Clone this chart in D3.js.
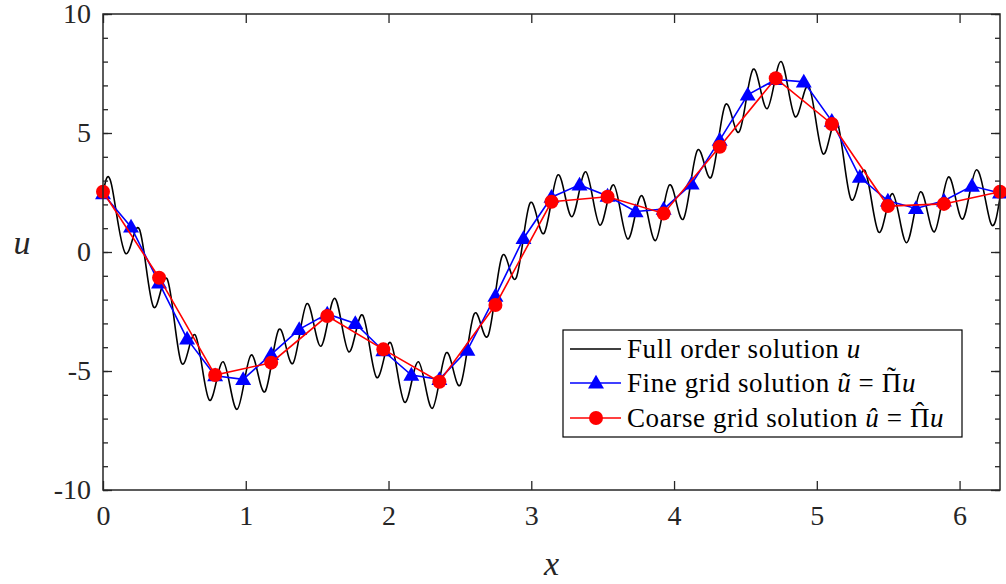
<!DOCTYPE html>
<html>
<head>
<meta charset="utf-8">
<script src="https://cdn.jsdelivr.net/npm/d3@7"></script>
<style>
  html, body { margin: 0; padding: 0; background: #fff; }
  svg { display: block; font-family: "Liberation Serif", "DejaVu Serif", serif; }
</style>
</head>
<body>
<svg id="chart" width="1006" height="584"></svg>
<script>
// ---- data ----
const TWO_PI = 2 * Math.PI;

// full order solution: value at x=0, alternating peak / trough values, value at x=2pi
const fullStart = 2.45;
const fullPeaks = [2.82, 0.95, -1.15, -3.49, -4.61, -4.33, -3.25, -2.17, -1.95, -2.65, -3.81,
                   -4.61, -4.23, -2.6, -0.17, 2.05, 3.24, 3.37, 2.82, 2.37, 2.82, 4.27,
                   6.18, 7.68, 8.0, 6.95, 5.5, 3.43, 2.45, 2.53, 3.15, 3.45];
const fullTroughs = [-0.06, -2.3, -4.65, -6.22, -6.61, -5.87, -4.68, -3.96, -4.19, -5.27, -6.31,
                     -6.57, -5.59, -3.51, -1.1, 0.78, 1.48, 1.13, 0.55, 0.48, 1.39, 3.15,
                     5.05, 6.02, 5.69, 4.13, 2.23, 0.83, 0.39, 0.85, 1.38, 1.27];
const fullEnd = 2.3;
const firstPeakX = 0.06;      // x of the first peak
const halfPeriod = 0.0977;    // distance peak -> trough

// fine grid solution, 33 nodes on [0, 2pi]
const fineU = [2.45, 1.05, -1.3, -3.65, -5.2, -5.35, -4.3, -3.25, -2.6, -3.0, -4.15,
               -5.17, -5.35, -4.12, -1.85, 0.57, 2.3, 2.82, 2.35, 1.7, 1.8, 2.86,
               4.7, 6.6, 7.25, 7.15, 5.5, 3.14, 2.15, 1.83, 2.15, 2.77, 2.48];

// coarse grid solution, 17 nodes on [0, 2pi]
const coarseU = [2.53, -1.08, -5.17, -4.65, -2.69, -4.09, -5.45, -2.23, 2.11,
                 2.32, 1.62, 4.42, 7.3, 5.38, 1.93, 2.02, 2.53];

const xTicks = [0, 1, 2, 3, 4, 5, 6];
const yTicks = [-10, -5, 0, 5, 10];
const yMinorTicks = d3.range(-10, 11, 1);

// ---- build point lists ----
const fullPts = [[0, fullStart]];
fullPeaks.forEach((p, k) => {
    fullPts.push([firstPeakX + 2 * k * halfPeriod, p]);
    fullPts.push([firstPeakX + (2 * k + 1) * halfPeriod, fullTroughs[k]]);
});
fullPts.push([TWO_PI, fullEnd]);

const finePts = fineU.map((u, j) => [j * TWO_PI / (fineU.length - 1), u]);
const coarsePts = coarseU.map((u, i) => [i * TWO_PI / (coarseU.length - 1), u]);

// ---- layout ----
const plotL = 103, plotR = 1000, plotT = 14, plotB = 490;
const ink = "#262626";

const svg = d3.select("#chart");
const x = d3.scaleLinear().domain([0, TWO_PI]).range([plotL, plotR]);
const y = d3.scaleLinear().domain([-10, 10]).range([plotB, plotT]);

svg.append("defs").append("clipPath").attr("id", "clip")
    .append("rect")
    .attr("x", plotL).attr("y", plotT)
    .attr("width", plotR - plotL).attr("height", plotB - plotT);

const smooth = d3.line().x(d => x(d[0])).y(d => y(d[1])).curve(d3.curveNatural);
const straight = d3.line().x(d => x(d[0])).y(d => y(d[1]));

// full order solution
svg.append("path")
    .datum(fullPts)
    .attr("clip-path", "url(#clip)")
    .attr("fill", "none")
    .attr("stroke", "#000")
    .attr("stroke-width", 1.6)
    .attr("d", smooth);

// fine grid
svg.append("path")
    .datum(finePts)
    .attr("fill", "none")
    .attr("stroke", "#0000ff")
    .attr("stroke-width", 1.6)
    .attr("d", straight);

const tri = d3.symbol().type(d3.symbolTriangle).size(110);
svg.append("g").selectAll("path")
    .data(finePts)
    .enter()
    .append("path")
    .attr("d", tri)
    .attr("transform", d => `translate(${x(d[0])},${y(d[1]) + 1})`)
    .attr("fill", "#0000ff");

// coarse grid
svg.append("path")
    .datum(coarsePts)
    .attr("fill", "none")
    .attr("stroke", "#ff0000")
    .attr("stroke-width", 1.6)
    .attr("d", straight);

svg.append("g").selectAll("circle")
    .data(coarsePts)
    .enter()
    .append("circle")
    .attr("cx", d => x(d[0]))
    .attr("cy", d => y(d[1]))
    .attr("r", 7)
    .attr("fill", "#ff0000");

// ---- axes (ticks inside, box on) ----
const fontSize = 28;

svg.append("g")
    .attr("transform", `translate(0,${plotB})`)
    .call(d3.axisBottom(x).tickValues(xTicks).tickSize(-9).tickPadding(15).tickFormat(d3.format("d")));
svg.append("g")
    .attr("transform", `translate(0,${plotT})`)
    .call(d3.axisTop(x).tickValues(xTicks).tickSize(-9).tickFormat(""));

svg.append("g")
    .attr("transform", `translate(${plotL},0)`)
    .call(d3.axisLeft(y).tickValues(yTicks).tickSize(-9).tickPadding(12).tickFormat(d => String(d)));
svg.append("g")
    .attr("transform", `translate(${plotR},0)`)
    .call(d3.axisRight(y).tickValues(yTicks).tickSize(-9).tickFormat(""));

// minor y ticks on both sides
svg.append("g")
    .attr("transform", `translate(${plotL},0)`)
    .call(d3.axisLeft(y).tickValues(yMinorTicks).tickSize(-5).tickFormat(""));
svg.append("g")
    .attr("transform", `translate(${plotR},0)`)
    .call(d3.axisRight(y).tickValues(yMinorTicks).tickSize(-5).tickFormat(""));

svg.selectAll(".domain").remove();
svg.selectAll(".tick line").attr("stroke", ink).attr("stroke-width", 1.3);
svg.selectAll(".tick text")
    .attr("fill", ink)
    .style("font-family", "'Liberation Serif', serif")
    .style("font-size", fontSize + "px");

svg.append("rect")
    .attr("x", plotL).attr("y", plotT)
    .attr("width", plotR - plotL).attr("height", plotB - plotT)
    .attr("fill", "none")
    .attr("stroke", ink)
    .attr("stroke-width", 1.5);

// axis labels
svg.append("text")
    .attr("x", (plotL + plotR) / 2)
    .attr("y", 575)
    .attr("text-anchor", "middle")
    .attr("font-style", "italic")
    .attr("font-size", 34)
    .attr("fill", ink)
    .text("x");

svg.append("text")
    .attr("x", 22)
    .attr("y", 254)
    .attr("text-anchor", "middle")
    .attr("font-style", "italic")
    .attr("font-size", 34)
    .attr("fill", ink)
    .text("u");

// ---- legend ----
const legend = svg.append("g").attr("transform", "translate(563,330)");
legend.append("rect")
    .attr("width", 399).attr("height", 107)
    .attr("fill", "#fff")
    .attr("stroke", "#000")
    .attr("stroke-width", 1.2);

// parts: [text, italic]; accent goes over the capital Pi
const legendRows = [
    { color: "#000", marker: null, parts: [["Full order solution ", false], ["u", true]] },
    { color: "#0000ff", marker: "tri", parts: [["Fine grid solution ", false], ["\u0169", true], [" = \u03A0", false], ["u", true]], accent: "\u02DC" },
    { color: "#ff0000", marker: "circ", parts: [["Coarse grid solution ", false], ["\u00FB", true], [" = \u03A0", false], ["u", true]], accent: "\u02C6" }
];

const rowY = [19, 53, 88];
const item = legend.selectAll(".legend-item")
    .data(legendRows)
    .enter()
    .append("g")
    .attr("class", "legend-item")
    .attr("transform", (d, i) => `translate(0,${rowY[i]})`);

item.append("line")
    .attr("x1", 7).attr("x2", 58)
    .attr("stroke", d => d.color)
    .attr("stroke-width", 1.6);

item.filter(d => d.marker === "tri").append("path")
    .attr("d", tri)
    .attr("transform", "translate(33,1)")
    .attr("fill", "#0000ff");

item.filter(d => d.marker === "circ").append("circle")
    .attr("cx", 33).attr("r", 7)
    .attr("fill", "#ff0000");

const label = item.append("text")
    .attr("x", 64)
    .attr("y", 9)
    .attr("font-size", 27)
    .attr("letter-spacing", 0.6)
    .attr("fill", "#000");

label.selectAll("tspan")
    .data(d => d.parts)
    .enter()
    .append("tspan")
    .attr("font-style", d => d[1] ? "italic" : "normal")
    .text(d => d[0]);

// accents (tilde / hat) over the capital Pi, kept inside the same text element
label.each(function (d) {
    if (!d.accent) return;
    const full = d.parts.map(p => p[0]).join("");
    const idx = full.indexOf("\u03A0");
    const s = this.getStartPositionOfChar(idx);
    const e = this.getEndPositionOfChar(idx);
    d3.select(this).append("tspan")
        .attr("x", (s.x + e.x) / 2)
        .attr("y", 9 - 6)
        .attr("text-anchor", "middle")
        .text(d.accent);
});
</script>
</body>
</html>
